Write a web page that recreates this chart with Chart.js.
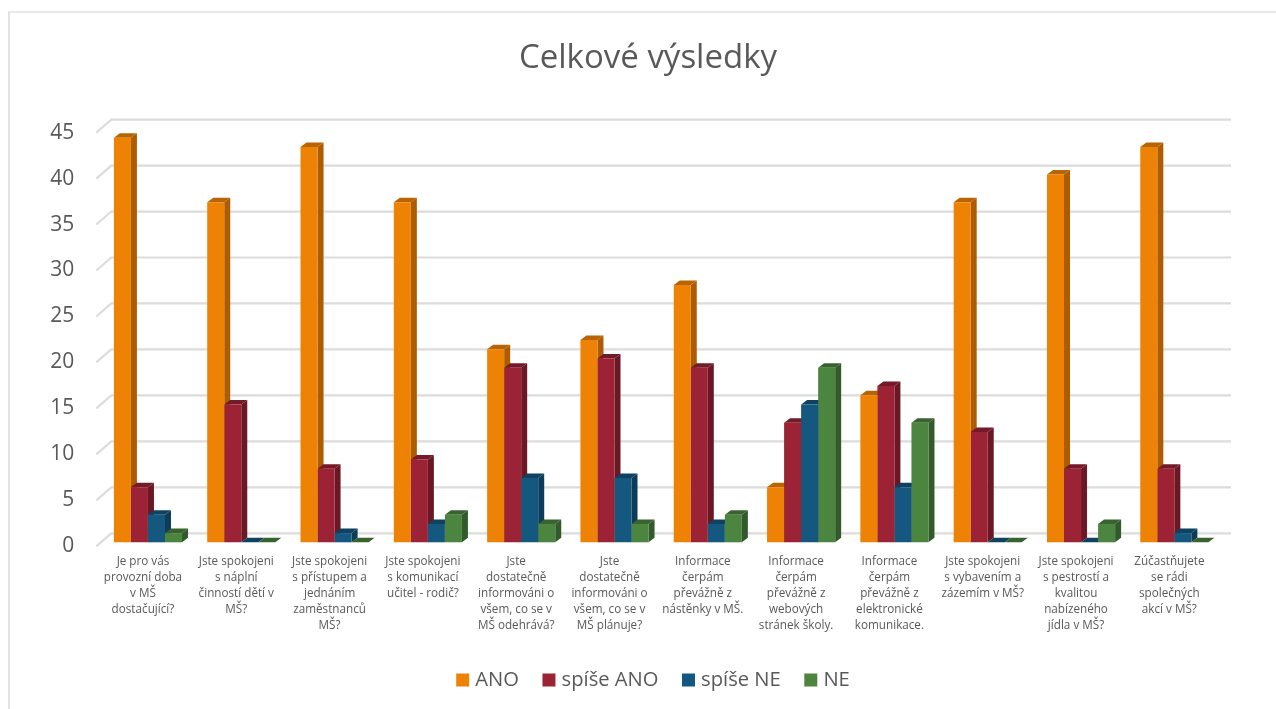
<!DOCTYPE html>
<html>
<head>
<meta charset="utf-8">
<title>Celkové výsledky</title>
<script src="https://cdn.jsdelivr.net/npm/chart.js@4/dist/chart.umd.min.js"></script>
<style>
    html, body { margin: 0; padding: 0; background: #fff; overflow: hidden; }
    #wrap { position: absolute; left: 0; top: 0; width: 1276px; height: 709px; }
    #frame { position: absolute; left: 8px; top: 11px; right: 0; bottom: 0; border-left: 2px solid #e2e2e2; border-top: 2px solid #e9e9e9; }
    #myChart { position: absolute; left: 0; top: 0; }
</style>
</head>
<body>
<div id="wrap">
    <div id="frame"></div>
    <canvas id="myChart" width="1276" height="709"></canvas>
</div>
<script>
const categories = [
    ['Je pro vás', 'provozní doba', 'v MŠ', 'dostačující?'],
    ['Jste spokojeni', 's náplní', 'činností dětí v', 'MŠ?'],
    ['Jste spokojeni', 's přístupem a', 'jednáním', 'zaměstnanců', 'MŠ?'],
    ['Jste spokojeni', 's komunikací', 'učitel - rodič?'],
    ['Jste', 'dostatečně', 'informováni o', 'všem, co se v', 'MŠ odehrává?'],
    ['Jste', 'dostatečně', 'informováni o', 'všem, co se v', 'MŠ plánuje?'],
    ['Informace', 'čerpám', 'převážně z', 'nástěnky v MŠ.'],
    ['Informace', 'čerpám', 'převážně z', 'webových', 'stránek školy.'],
    ['Informace', 'čerpám', 'převážně z', 'elektronické', 'komunikace.'],
    ['Jste spokojeni', 's vybavením a', 'zázemím v MŠ?'],
    ['Jste spokojeni', 's pestrostí a', 'kvalitou', 'nabízeného', 'jídla v MŠ?'],
    ['Zúčastňujete', 'se rádi', 'společných', 'akcí v MŠ?']
];
const ano = [44, 37, 43, 37, 21, 22, 28, 6, 16, 37, 40, 43];
const spiseAno = [6, 15, 8, 9, 19, 20, 19, 13, 17, 12, 8, 8];
const spiseNe = [3, 0, 1, 2, 7, 7, 2, 15, 6, 0, 0, 1];
const ne = [1, 0, 0, 3, 2, 2, 3, 19, 13, 0, 2, 0];

const textColor = '#595959';
const gridColor = '#dcdcdc';
const fontName = '"Open Sans", sans-serif';

// the side and top of each bar, and the back wall, are not in Chart.js so they go in a plugin
const barPlaneX = 5, barPlaneY = -4;
const wallX = 15, wallY = -13;
const barDepthX = 6, barDepthY = -4.5;
const titleShift = 40, legendShift = 47;

const fake3d = {
    id: 'fake3d',
    afterLayout(chart) {
        // title and legend sit off centre in the picture, the right padding would pull them left
        chart.titleBlock.left += titleShift;
        chart.titleBlock.right += titleShift;
        chart.legend.left += legendShift;
        chart.legend.right += legendShift;
    },
    beforeDatasetsDraw(chart) {
        const ctx = chart.ctx;
        const y = chart.scales.y;
        const area = chart.chartArea;

        ctx.save();
        ctx.strokeStyle = gridColor;
        ctx.lineWidth = 2.2;
        y.ticks.forEach(tick => {
            const py = y.getPixelForValue(tick.value);
            ctx.beginPath();
            ctx.moveTo(area.left, py);
            ctx.lineTo(area.left + wallX, py + wallY);
            ctx.lineTo(area.right + wallX, py + wallY);
            ctx.stroke();
        });
        ctx.restore();

        // everything below moves back to the plane the bars stand on, restored after the datasets
        ctx.save();
        ctx.translate(barPlaneX, barPlaneY);
        chart.data.datasets.forEach((ds, d) => {
            chart.getDatasetMeta(d).data.forEach(bar => {
                const left = bar.x - bar.width / 2;
                const right = bar.x + bar.width / 2;

                ctx.fillStyle = ds.sideColor;
                ctx.beginPath();
                ctx.moveTo(right, bar.base);
                ctx.lineTo(right + barDepthX, bar.base + barDepthY);
                ctx.lineTo(right + barDepthX, bar.y + barDepthY);
                ctx.lineTo(right, bar.y);
                ctx.closePath();
                ctx.fill();

                ctx.fillStyle = ds.topColor;
                ctx.beginPath();
                ctx.moveTo(left, bar.y);
                ctx.lineTo(left + barDepthX, bar.y + barDepthY);
                ctx.lineTo(right + barDepthX, bar.y + barDepthY);
                ctx.lineTo(right, bar.y);
                ctx.closePath();
                ctx.fill();
            });
        });
    },
    afterDatasetsDraw(chart) {
        chart.ctx.restore();
    }
};

function makeDataset(label, values, color, topColor, sideColor) {
    return {
        label: label,
        data: values,
        backgroundColor: color,
        borderWidth: 0,
        topColor: topColor,
        sideColor: sideColor,
        barPercentage: 1,
        categoryPercentage: 0.73,
        clip: false
    };
}

const ctx = document.getElementById('myChart').getContext('2d');

new Chart(ctx, {
    type: 'bar',
    data: {
        labels: categories,
        datasets: [
            makeDataset('ANO', ano, '#ee8205', '#b86403', '#ad5c02'),
            makeDataset('spíše ANO', spiseAno, '#9b2335', '#741a28', '#6a1824'),
            makeDataset('spíše NE', spiseNe, '#15587f', '#0f4160', '#0e3c58'),
            makeDataset('NE', ne, '#4b853f', '#38632f', '#335a2b')
        ]
    },
    options: {
        responsive: false,
        animation: false,
        layout: {
            padding: { right: 60, bottom: 9 }
        },
        scales: {
            x: {
                grid: { display: false, drawTicks: false },
                border: { display: false },
                afterFit(axis) { axis.height = 96; },
                ticks: {
                    color: textColor,
                    autoSkip: false,
                    maxRotation: 0,
                    minRotation: 0,
                    padding: 7,
                    font: { family: fontName, size: 11.7, lineHeight: 1.37 }
                }
            },
            y: {
                min: 0,
                max: 45,
                grid: { display: false, drawTicks: false },
                border: { display: false },
                afterFit(axis) { axis.width = 96.3; },
                ticks: {
                    stepSize: 5,
                    color: textColor,
                    padding: 22,
                    font: { family: fontName, size: 21 }
                }
            }
        },
        plugins: {
            tooltip: { enabled: false },
            title: {
                display: true,
                text: 'Celkové výsledky',
                color: textColor,
                padding: { top: 39, bottom: 54 },
                font: { family: fontName, size: 33, weight: 'normal' }
            },
            legend: {
                position: 'bottom',
                labels: {
                    color: textColor,
                    usePointStyle: true,
                    pointStyle: 'rect',
                    boxWidth: 5,
                    boxHeight: 13,
                    padding: 27.5,
                    font: { family: fontName, size: 20.2 }
                }
            }
        }
    },
    plugins: [fake3d]
});
</script>
</body>
</html>
